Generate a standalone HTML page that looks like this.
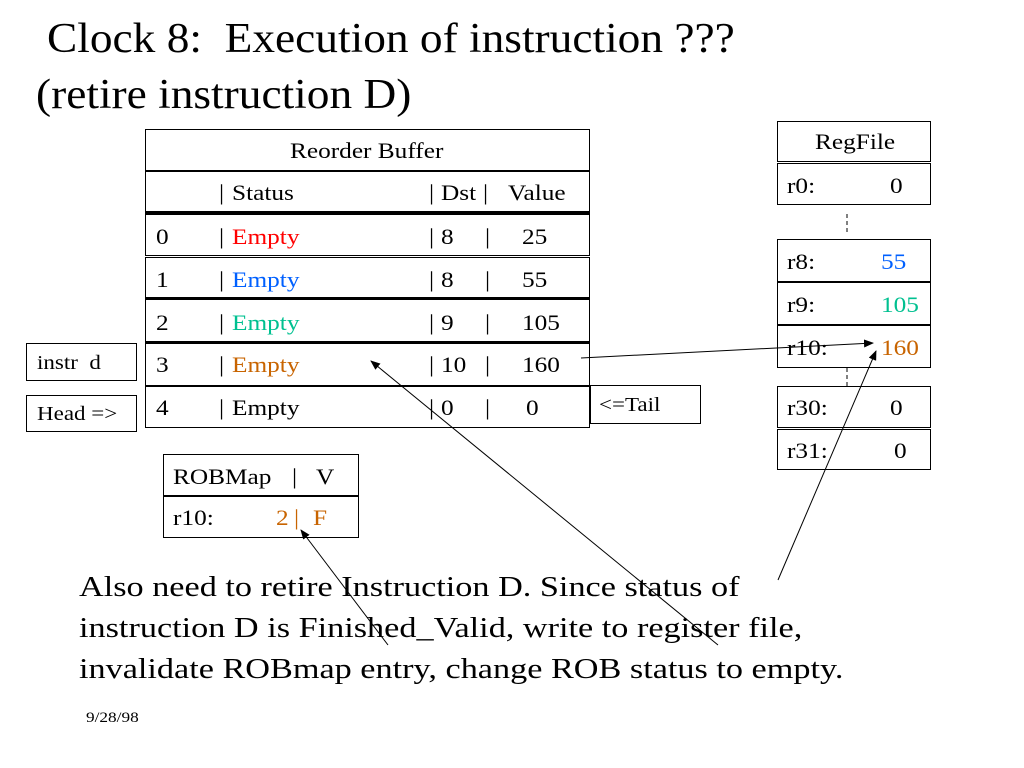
<!DOCTYPE html>
<html><head><meta charset="utf-8"><style>
body{margin:0;width:1024px;height:768px;background:#fff;position:relative;overflow:hidden;font-family:"Liberation Serif",serif;color:#000}
.b{position:absolute;border:1px solid #000;box-sizing:border-box}
.t{position:absolute;white-space:pre;font-size:22px;line-height:1;transform:scaleX(1.15);transform-origin:0 0}
.red{color:#f00}.blu{color:#0060ff}.grn{color:#00c090}.org{color:#c86400}
</style></head><body>
<div class="t" style="left:47px;top:18px;font-size:42px;transform:scaleX(1.08)">Clock 8:  Execution of instruction ???</div>
<div class="t" style="left:36px;top:74px;font-size:42px;transform:scaleX(1.08)">(retire instruction D)</div>

<!-- ROB -->
<div class="b" style="left:145px;top:129px;width:445px;height:43px;border-bottom:2px solid #000"></div>
<div class="t" style="left:290px;top:140px">Reorder Buffer</div>
<div class="b" style="left:145px;top:171px;width:445px;height:44px;border-bottom:4px solid #000"></div>
<div class="t" style="left:219px;top:182px">|</div><div class="t" style="left:232px;top:182px">Status</div>
<div class="t" style="left:429px;top:182px">|</div><div class="t" style="left:441px;top:182px">Dst</div>
<div class="t" style="left:483px;top:182px">|</div><div class="t" style="left:508px;top:182px">Value</div>
<div class="b" style="left:145px;top:214px;width:445px;height:42px"></div>
<div class="b" style="left:145px;top:257px;width:445px;height:42px;border-bottom:2px solid #000"></div>
<div class="b" style="left:145px;top:299px;width:445px;height:44px;border-bottom:2px solid #000"></div>
<div class="b" style="left:145px;top:343px;width:445px;height:43px"></div>
<div class="b" style="left:145px;top:386px;width:445px;height:42px"></div>

<div class="t" style="left:156px;top:226px">0</div><div class="t" style="left:219px;top:226px">|</div><div class="t red" style="left:232px;top:226px">Empty</div><div class="t" style="left:429px;top:226px">|</div><div class="t" style="left:441px;top:226px">8</div><div class="t" style="left:485px;top:226px">|</div><div class="t" style="left:522px;top:226px">25</div>
<div class="t" style="left:156px;top:269px">1</div><div class="t" style="left:219px;top:269px">|</div><div class="t blu" style="left:232px;top:269px">Empty</div><div class="t" style="left:429px;top:269px">|</div><div class="t" style="left:441px;top:269px">8</div><div class="t" style="left:485px;top:269px">|</div><div class="t" style="left:522px;top:269px">55</div>
<div class="t" style="left:156px;top:312px">2</div><div class="t" style="left:219px;top:312px">|</div><div class="t grn" style="left:232px;top:312px">Empty</div><div class="t" style="left:429px;top:312px">|</div><div class="t" style="left:441px;top:312px">9</div><div class="t" style="left:485px;top:312px">|</div><div class="t" style="left:522px;top:312px">105</div>
<div class="t" style="left:156px;top:354px">3</div><div class="t" style="left:219px;top:354px">|</div><div class="t org" style="left:232px;top:354px">Empty</div><div class="t" style="left:429px;top:354px">|</div><div class="t" style="left:441px;top:354px">10</div><div class="t" style="left:485px;top:354px">|</div><div class="t" style="left:522px;top:354px">160</div>
<div class="t" style="left:156px;top:397px">4</div><div class="t" style="left:219px;top:397px">|</div><div class="t" style="left:232px;top:397px">Empty</div><div class="t" style="left:429px;top:397px">|</div><div class="t" style="left:441px;top:397px">0</div><div class="t" style="left:485px;top:397px">|</div><div class="t" style="left:526px;top:397px">0</div>

<div class="b" style="left:26px;top:343px;width:111px;height:38px"></div>
<div class="t" style="left:37px;top:353px;font-size:20px">instr  d</div>
<div class="b" style="left:26px;top:395px;width:111px;height:37px"></div>
<div class="t" style="left:37px;top:404px;font-size:20px">Head =></div>
<div class="b" style="left:590px;top:385px;width:111px;height:39px"></div>
<div class="t" style="left:599px;top:395px;font-size:20px">&lt;=Tail</div>

<!-- ROBMap -->
<div class="b" style="left:163px;top:454px;width:196px;height:43px;border-bottom:2px solid #000"></div>
<div class="t" style="left:173px;top:466px">ROBMap</div><div class="t" style="left:292px;top:466px">|</div><div class="t" style="left:316px;top:466px">V</div>
<div class="b" style="left:163px;top:496px;width:196px;height:42px"></div>
<div class="t" style="left:173px;top:507px">r10:</div><div class="t org" style="left:276px;top:507px">2</div><div class="t org" style="left:294px;top:507px">|</div><div class="t org" style="left:313px;top:507px">F</div>

<!-- RegFile -->
<div class="b" style="left:777px;top:121px;width:154px;height:41px"></div>
<div class="t" style="left:815px;top:131px">RegFile</div>
<div class="b" style="left:777px;top:163px;width:154px;height:42px"></div>
<div class="t" style="left:787px;top:175px">r0:</div><div class="t" style="left:890px;top:175px">0</div>
<div class="b" style="left:777px;top:239px;width:154px;height:44px;border-bottom:2px solid #000"></div>
<div class="t" style="left:787px;top:251px">r8:</div><div class="t blu" style="left:881px;top:251px">55</div>
<div class="b" style="left:777px;top:282px;width:154px;height:44px;border-bottom:2px solid #000"></div>
<div class="t" style="left:787px;top:294px">r9:</div><div class="t grn" style="left:881px;top:294px">105</div>
<div class="b" style="left:777px;top:325px;width:154px;height:43px"></div>
<div class="t" style="left:787px;top:337px">r10:</div><div class="t org" style="left:881px;top:337px">160</div>
<div class="b" style="left:777px;top:386px;width:154px;height:42px"></div>
<div class="t" style="left:787px;top:397px">r30:</div><div class="t" style="left:890px;top:397px">0</div>
<div class="b" style="left:777px;top:429px;width:154px;height:41px"></div>
<div class="t" style="left:787px;top:440px">r31:</div><div class="t" style="left:894px;top:440px">0</div>

<div class="t" style="left:79px;top:567px;font-size:29px;line-height:41px;transform:scaleX(1.18)">Also need to retire Instruction D. Since status of
instruction D is Finished_Valid, write to register file,
invalidate ROBmap entry, change ROB status to empty.</div>
<div class="t" style="left:86px;top:711px;font-size:15px">9/28/98</div>

<svg width="1024" height="768" style="position:absolute;left:0;top:0">
<defs><marker id="a" markerWidth="10" markerHeight="8" refX="9" refY="4" orient="auto" markerUnits="userSpaceOnUse"><path d="M0,0L10,4L0,8z"/></marker></defs>
<g stroke="#000" stroke-width="1" fill="none">
<line x1="847" y1="214" x2="847" y2="233" stroke-dasharray="4,3"/>
<line x1="847" y1="368" x2="847" y2="386" stroke-dasharray="4,3"/>
<line x1="581" y1="358" x2="873" y2="343" marker-end="url(#a)"/>
<line x1="718" y1="645" x2="371" y2="361" marker-end="url(#a)"/>
<line x1="388" y1="645" x2="301" y2="530" marker-end="url(#a)"/>
<line x1="778" y1="580" x2="876" y2="351" marker-end="url(#a)"/>
</g></svg>
</body></html>
